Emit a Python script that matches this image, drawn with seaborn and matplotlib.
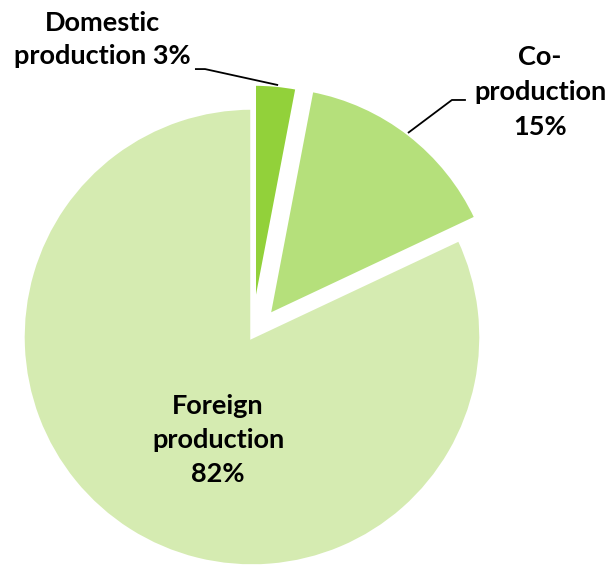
import matplotlib
matplotlib.use("Agg")
import matplotlib.pyplot as plt
import seaborn as sns

# Share of production type
categories = ["Domestic\nproduction", "Co-\nproduction", "Foreign\nproduction"]
shares = [3, 15, 82]
colors = ["#92d13a", "#b5e07b", "#d5ebb1"]
explode = [0.105, 0.12, 0.0]

sns.set_theme(style="white")
plt.rcParams["font.family"] = ["Lato", "DejaVu Sans"]

fig = plt.figure(figsize=(6.16, 5.66), dpi=100)
ax = fig.add_axes([0, 0, 1, 1])

wedges, _ = ax.pie(
    shares,
    colors=colors,
    explode=explode,
    startangle=90,
    counterclock=False,
    radius=1.0,
    wedgeprops=dict(edgecolor="white", linewidth=2.5),
)

ax.set_xlim(-1.1004, 1.5895)
ax.set_ylim(-1.0, 1.4716)
ax.set_aspect("auto")
ax.axis("off")

label_style = dict(fontsize=19.5, fontweight="bold", color="black",
                   ha="center", va="center")

# Domestic label with leader line
ax.text(-0.655, 1.297, "Domestic\nproduction " + f"{shares[0]}%",
        linespacing=1.45, **label_style)
ax.plot([-0.249, -0.205, 0.114], [1.170, 1.170, 1.100],
        color="black", lw=1.3, solid_capstyle="butt")

# Co-production label with leader line
ax.text(1.258, 1.070, "Co-\nproduction\n" + f"{shares[1]}%",
        linespacing=1.55, **label_style)
ax.plot([0.934, 0.873, 0.681], [1.035, 1.035, 0.891],
        color="black", lw=1.3, solid_capstyle="butt")

# Foreign label inside its wedge
ax.text(-0.148, -0.450, "Foreign\nproduction\n" + f"{shares[2]}%",
        linespacing=1.5, **label_style)

fig.savefig("out.png", dpi=100)
